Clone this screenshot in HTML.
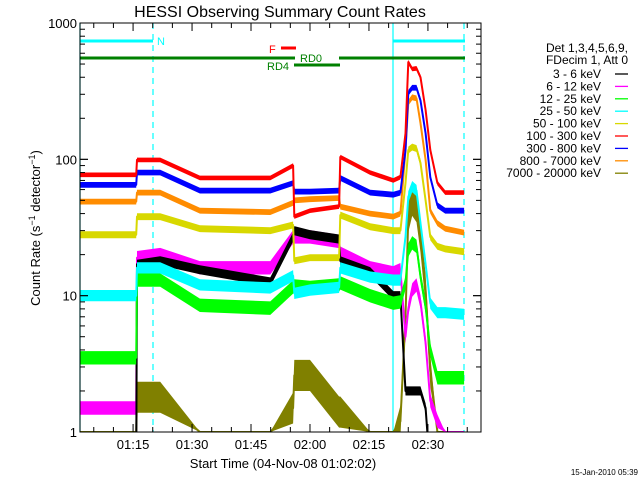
<!DOCTYPE html>
<html><head><meta charset="utf-8"><style>
html,body{margin:0;padding:0;background:#fff;}
svg{display:block;font-family:"Liberation Sans",sans-serif;}
</style></head><body>
<svg id="chart" width="640" height="480" viewBox="0 0 640 480" xmlns="http://www.w3.org/2000/svg">
<rect width="640" height="480" fill="#fff"/>
<text x="280" y="17" font-size="16" text-anchor="middle">HESSI Observing Summary Count Rates</text>
<text transform="translate(40,228) rotate(-90)" font-size="13" text-anchor="middle">Count Rate (s<tspan font-size="9" dy="-5">−1</tspan><tspan dy="5"> detector</tspan><tspan font-size="9" dy="-5">−1</tspan><tspan dy="5">)</tspan></text>
<text x="283" y="468" font-size="13" text-anchor="middle">Start Time (04-Nov-08 01:02:02)</text>
<text x="638" y="475" font-size="8" text-anchor="end">15-Jan-2010 05:39</text>
<g id="plot"></g>
<g id="legend"></g>
</svg>
<script>
// time in minutes after 01:00
const times = [1.5,15.8,16.0,21.9,32.0,49.9,55.7,56.0,60.0,67.4,67.7,75.3,81.2,83.0,84.3,85.0,86.0,87.1,88.1,89.4,90.6,92.4,94.4,99.2];
const s3_6     = [0.5,0.5,17,18,15.5,12.6,27,30,28,26,18,15,10,10,2,2,2,2,2,1.5,0.5,0.5,0.5,0.5];
const s6_12    = [1.5,1.5,19,20,16,16,27,27,27,25,20.5,16,14.7,15.5,5,8,11,12,9,4.5,1.7,1.2,1,1];
const s12_25   = [3.5,3.5,13,13,8.5,8.1,11.6,11.8,11.5,12,12.4,10,8.8,9,12.4,21.6,24.4,23,13.8,8.3,4,2.5,2.5,2.5];
const s25_50   = [10,10,16,16,12,11.4,14,10.4,11,11.5,16,13.7,13,13,27,53,63,59,34,17,8.8,7.5,7.5,7.3];
const s50_100  = [28,28,38,38,31,30,33,18,19,19,39,32,30,30,67,117,123,120,94,50,27,23,22,21];
const s100_300 = [77,77,99,99,73,73,90,38,42,45,104,80,70,74,155,517,460,465,400,230,117,67,57,57];
const s300_800 = [65,65,80,80,59,59,67,58,58,59,73,57,55,57,117,307,335,335,270,155,74,46,42,42];
const s800_7000= [49,49,57,57,42,41,48,50,51,52,45,40,38,40,117,260,285,280,184,99,42,34,31,29];
const s7000_20000=[1,1,1.8,1.8,1,1,1.5,2.6,2.6,1.4,1.4,1,1,1.2,7,38,50,45,27,11,2.8,1,1,1];
const bandLabels = ["3 - 6 keV","6 - 12 keV","12 - 25 keV","25 - 50 keV","50 - 100 keV","100 - 300 keV","300 - 800 keV","800 - 7000 keV","7000 - 20000 keV"];
const bandColors = ["#000000","#ff00ff","#00ff00","#00ffff","#d8d800","#ff0000","#0000ff","#ff8c00","#808000"];
const xTickLabels = ["01:15","01:30","01:45","02:00","02:15","02:30"];
const xTickMinutes = [15,30,45,60,75,90];
const yTickLabels = ["1","10","100","1000"];
const yTickValues = [1,10,100,1000];

const NS="http://www.w3.org/2000/svg";
const L=80,R=481,T=23,B=432;
const tMin=1.5,tMax=103.5;
// visual scatter width (styling) per band index
const scatter=[1.08,1.12,1.12,1.1,1.06,1.04,1.05,1.05,1.3];
function X(t){return L+(t-tMin)/(tMax-tMin)*(R-L);}
function Y(v){const lv=Math.log10(Math.max(v,0.5));return B-(lv-0)/3*(B-T);}
const plot=document.getElementById('plot');
function el(tag,attrs,parent){const e=document.createElementNS(NS,tag);for(const k in attrs)e.setAttribute(k,attrs[k]);(parent||plot).appendChild(e);return e;}

const defs=el('defs',{});
const cp=el('clipPath',{id:'pc'},defs);
el('rect',{x:L,y:T,width:R-L,height:B-T},cp);

const vls=[[X(1.5),'none','cyan-left-line'],[153,'6,5','cyan-dashed-line-1'],[393,'none','cyan-solid-line'],[464,'6,5','cyan-dashed-line-2']];
for(const v of vls){
  const ln=el('line',{x1:v[0],x2:v[0],y1:T,y2:B,stroke:'#00ffff','stroke-width':1.2,'stroke-dasharray':v[1]});
  
  
}

const series=[s7000_20000,s6_12,s3_6,s12_25,s25_50,s50_100,s800_7000,s300_800,s100_300];
const order=[8,1,0,2,3,4,7,6,5];
const g=el('g',{'clip-path':'url(#pc)'});
series.forEach((arr,i)=>{
  const ci=order[i];
  const f=scatter[ci];
  let d='',up='',dn='';
  for(let k=0;k<times.length;k++){
    const x=X(times[k]).toFixed(1),y=Y(arr[k]).toFixed(1);
    const hi=arr[k]<=1?arr[k]:arr[k]*f;
    d+=(k===0?'M':'L')+x+','+y;
    up+=(k===0?'M':'L')+x+','+Y(hi).toFixed(1);
  }
  for(let k=times.length-1;k>=0;k--){const lo=arr[k]<=1?arr[k]:arr[k]/f;dn+='L'+X(times[k]).toFixed(1)+','+Y(lo).toFixed(1);}
  const band=el('path',{d:up+dn+'Z',fill:bandColors[ci],stroke:'none'},g);
  
  
  const p=el('path',{d:d,fill:'none',stroke:bandColors[ci],'stroke-width':2,'stroke-linejoin':'round'},g);
  
  
});

function bar(x1,x2,y,c,name){const b=el('line',{x1:x1,x2:x2,y1:y,y2:y,stroke:c,'stroke-width':3});}
bar(80,153,41,'#00ffff','night-bar-1');
bar(393,465,41,'#00ffff','night-bar-2');
bar(80,295,58,'#008000','rd-bar-1');
bar(294,340,65,'#008000','rd4-bar');
bar(339,465,58,'#008000','rd-bar-2');
bar(281,296,48,'#ff0000','flare-bar');
function txt(x,y,s,c,size,anchor,name){const t=el('text',{x:x,y:y,fill:c,'font-size':size,'text-anchor':anchor||'start'});t.textContent=s;return t;}
txt(157,45,'N','#00ffff',11,'start','night-label');
txt(269,53,'F','#ff0000',11,'start','flare-label');
txt(300,62,'RD0','#008000',11,'start','rd0-label');
txt(267,70,'RD4','#008000',11,'start','rd4-label');

const fr=el('rect',{x:L,y:T,width:R-L,height:B-T,fill:'none',stroke:'#000','stroke-width':1});


for(let d=0;d<3;d++){for(let m=1;m<10;m++){const v=Math.pow(10,d)*m;const y=Y(v);const len=m===1?8:5;
  el('line',{x1:L,x2:L+len,y1:y,y2:y,stroke:'#000'});el('line',{x1:R,x2:R-len,y1:y,y2:y,stroke:'#000'});}}
yTickValues.forEach((v,i)=>{const y=Y(v);el('line',{x1:L,x2:L+8,y1:y,y2:y,stroke:'#000'});el('line',{x1:R,x2:R-8,y1:y,y2:y,stroke:'#000'});
  txt(L-3,y+5,yTickLabels[i],'#000',13,'end','y-tick-label-'+yTickLabels[i]);});
for(let t=5;t<tMax;t+=5){const x=X(t);const len=(t%15===0)?8:5;
  el('line',{x1:x,x2:x,y1:B,y2:B-len,stroke:'#000'});el('line',{x1:x,x2:x,y1:T,y2:T+len,stroke:'#000'});}
xTickMinutes.forEach((t,i)=>{txt(X(t),449,xTickLabels[i],'#000',13,'middle','x-tick-label-'+xTickLabels[i].replace(':',''));});

const lg=document.getElementById('legend');
function ltxt(x,y,s,name){const t=document.createElementNS(NS,'text');t.setAttribute('x',x);t.setAttribute('y',y);t.setAttribute('font-size',12);t.setAttribute('text-anchor','end');t.textContent=s;lg.appendChild(t);}
ltxt(628,52,'Det 1,3,4,5,6,9,','legend-detectors');
ltxt(628,64,'FDecim 1, Att 0','legend-fdecim');
bandLabels.forEach((s,i)=>{const y=74+i*12.4;
  ltxt(601,y+4,s,'legend-label-'+i);
  const ln=document.createElementNS(NS,'line');ln.setAttribute('x1',615);ln.setAttribute('x2',628);ln.setAttribute('y1',y);ln.setAttribute('y2',y);ln.setAttribute('stroke',bandColors[i]);ln.setAttribute('stroke-width',1.3);
  
  
  lg.appendChild(ln);});
</script>
</body></html>
